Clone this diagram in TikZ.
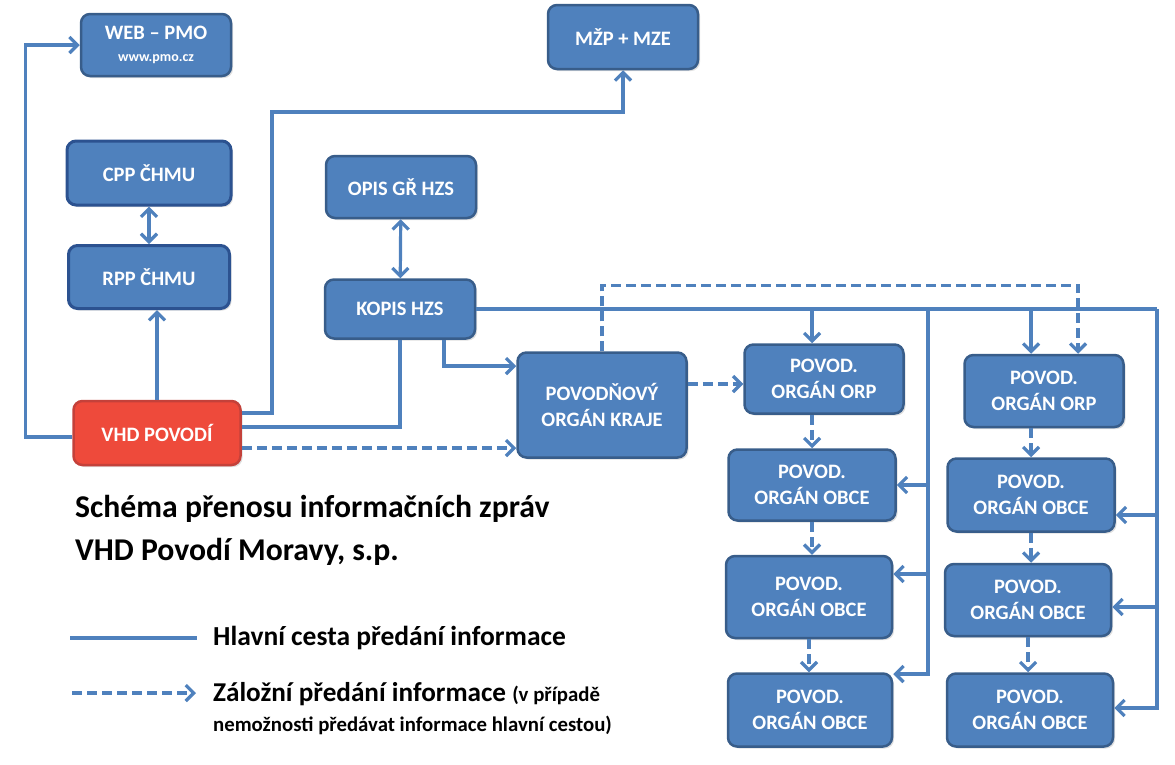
\documentclass[tikz,border=0pt]{standalone}
\usepackage{fontspec}
\setmainfont{Carlito}
\usetikzlibrary{arrows.meta, shadows}
\definecolor{boxblue}{HTML}{4F81BD}
\definecolor{boxedge}{HTML}{385D8A}
\definecolor{boxdark}{HTML}{2C5290}
\definecolor{vhdred}{HTML}{EE4A3B}
\definecolor{vhdedge}{HTML}{C4413A}
\tikzset{>={Straight Barb[length=8pt,width=16pt]},box/.style={rectangle,draw=boxedge,fill=boxblue,line width=2.5pt,rounded corners=9pt,align=center,inner sep=2pt,text=white,font=\fontsize{20.5}{26}\selectfont\bfseries,drop shadow={opacity=0.25,shadow xshift=2pt,shadow yshift=-2pt}},redbox/.style={box,draw=vhdedge,fill=vhdred},darkbox/.style={box,draw=boxdark,line width=3pt},link/.style={draw=boxblue,line width=3.2pt},line/.style={link,->},dline/.style={line,dash pattern=on 10pt off 5pt},note/.style={anchor=base west,inner sep=0pt,font=\bfseries}}

\begin{document}
\begin{tikzpicture}[x=1pt,y=-1pt]
\useasboundingbox (0,0) rectangle (1175,764);
\node[box, minimum width=150pt, minimum height=62pt] (web) at (156,45) {WEB – PMO\\[-4pt]{\fontsize{14}{16}\selectfont www.pmo.cz}};
\node[box, minimum width=150pt, minimum height=64pt] (mze) at (623,37) {MŽP + MZE};
\node[darkbox, minimum width=164pt, minimum height=64pt] (cpp) at (149,173) {CPP ČHMU};
\node[darkbox, minimum width=161pt, minimum height=63pt] (rpp) at (149,277) {RPP ČHMU};
\node[box, minimum width=150pt, minimum height=62pt] (opis) at (401,187) {OPIS GŘ HZS};
\node[box, minimum width=150pt, minimum height=59pt] (kopis) at (400,309) {KOPIS HZS};
\node[redbox, minimum width=167pt, minimum height=64pt] (vhd) at (157,433) {VHD POVODÍ};
\node[box, minimum width=169pt, minimum height=105pt] (kraje) at (602,405) {POVODŇOVÝ\\ORGÁN KRAJE};
\node[box, minimum width=159pt, minimum height=69pt] (orp1) at (824,379) {POVOD.\\ORGÁN ORP};
\node[box, minimum width=167pt, minimum height=71pt] (obce1) at (812,485) {POVOD.\\ORGÁN OBCE};
\node[box, minimum width=166pt, minimum height=82pt] (obce2) at (809,597) {POVOD.\\ORGÁN OBCE};
\node[box, minimum width=164pt, minimum height=73pt] (obce3) at (810,710) {POVOD.\\ORGÁN OBCE};
\node[box, minimum width=159pt, minimum height=72pt] (orp2) at (1044,391) {POVOD.\\ORGÁN ORP};
\node[box, minimum width=167pt, minimum height=73pt] (obr1) at (1031,495) {POVOD.\\ORGÁN OBCE};
\node[box, minimum width=166pt, minimum height=72pt] (obr2) at (1028,600) {POVOD.\\ORGÁN OBCE};
\node[box, minimum width=166pt, minimum height=73pt] (obr3) at (1030,710) {POVOD.\\ORGÁN OBCE};
\coordinate (midbus) at (928,309);
\coordinate (rbus) at (1157,309);
\draw[line] ([yshift=-4pt]vhd.west) -- ++(-47,0) |- (web.west);
\draw[line] (vhd.north) -- (vhd.north |- rpp.south);
\draw[line,<->] (cpp) -- (rpp);
\draw[line,<->] (opis) -- (kopis);
\draw[line] ([yshift=20pt]vhd.east) -| (272,112) -| (mze.south);
\draw[link] ([yshift=6pt]vhd.east) -| (kopis.south);
\draw[dline] ([yshift=-15pt]vhd.east) -- ([yshift=-43pt]kraje.west);
\draw[line] ([xshift=44pt]kopis.south) |- ([yshift=39pt]kraje.west);
\draw[link] (kopis.east) -- (rbus);
\draw[line] (kopis.east) -| (orp1.north -| obce1.north);
\draw[line] (kopis.east) -| (orp2.north -| obr1.north);
\draw[line] (midbus) |- (obce1.east);
\draw[line] (midbus) |- ([yshift=23pt]obce2.east);
\draw[line] (midbus) |- ([yshift=36pt]obce3.east);
\draw[line] (rbus) |- ([yshift=-20pt]obr1.east);
\draw[line] (rbus) |- ([yshift=-7pt]obr2.east);
\draw[line] (rbus) |- ([yshift=2pt]obr3.east);
\draw[dline] (kraje.north) -- ++(0,-66) -| ([xshift=34pt]orp2.north);
\draw[dline] ([yshift=21pt]kraje.east) -- ([yshift=-5pt]orp1.west);
\draw[dline] (orp1.south -| obce1.north) -- (obce1.north);
\draw[dline] (obce1.south) -- (obce1.south |- obce2.north);
\draw[dline] (obce2.south) -- (obce2.south |- obce3.north);
\draw[dline] (orp2.south -| obr1.north) -- (obr1.north);
\draw[dline] (obr1.south) -- (obr1.south |- obr2.north);
\draw[dline] (obr2.south) -- (obr2.south |- obr3.north);
\node[note, font=\fontsize{31.7}{36}\selectfont\bfseries] (title1) at (75,517) {Schéma přenosu informačních zpráv};
\node[note, font=\fontsize{31.7}{36}\selectfont\bfseries] (title2) at (75,560) {VHD Povodí Moravy, s.p.};
\coordinate (hlstart) at (70,638);
\coordinate (hlend) at (197,638);
\coordinate (zlstart) at (72,693);
\coordinate (zlend) at (196,693);
\draw[link] (hlstart) -- (hlend);
\draw[dline] (zlstart) -- (zlend);
\node[note, font=\fontsize{27.5}{30}\selectfont\bfseries] (hlavni) at (213,645) {Hlavní cesta předání informace};
\node[note, font=\fontsize{27.2}{30}\selectfont\bfseries] (zalozni) at (213,701) {Záložní předání informace {\fontsize{20.8}{24}\selectfont(v případě}};
\node[note, font=\fontsize{20.8}{24}\selectfont\bfseries] (zalozni2) at (213,731) {nemožnosti předávat informace hlavní cestou)};
\end{tikzpicture}
\end{document}
